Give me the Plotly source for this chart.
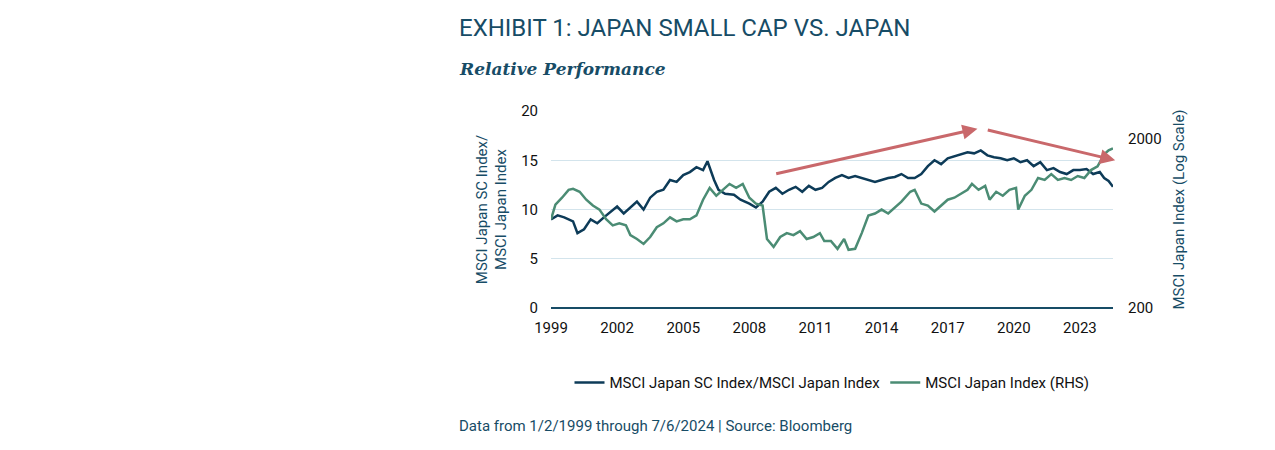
import plotly.graph_objects as go

# relative performance: MSCI Japan SC / MSCI Japan (left axis)
rel_t = [1999.0, 1999.3, 1999.6, 2000.0, 2000.2, 2000.5, 2000.8, 2001.1, 2001.4, 2001.7, 2002.0, 2002.3, 2002.6,
         2002.9, 2003.2, 2003.5, 2003.8, 2004.1, 2004.4, 2004.7, 2005.0, 2005.3, 2005.6, 2005.9, 2006.1, 2006.4,
         2006.6, 2006.9, 2007.3, 2007.6, 2008.0, 2008.3, 2008.6, 2008.9, 2009.2, 2009.5, 2009.8, 2010.1, 2010.4,
         2010.7, 2011.0, 2011.3, 2011.6, 2011.9, 2012.2, 2012.5, 2012.8, 2013.1, 2013.4, 2013.7, 2014.0, 2014.3,
         2014.6, 2014.9, 2015.2, 2015.5, 2015.8, 2016.1, 2016.4, 2016.7, 2017.0, 2017.3, 2017.6, 2017.9, 2018.2,
         2018.5, 2018.8, 2019.1, 2019.4, 2019.7, 2020.0, 2020.3, 2020.6, 2020.9, 2021.2, 2021.5, 2021.8, 2022.1,
         2022.4, 2022.7, 2023.0, 2023.3, 2023.6, 2023.9, 2024.1, 2024.3, 2024.5]
rel_v = [9.0, 9.4, 9.2, 8.8, 7.6, 8.0, 9.0, 8.6, 9.2, 9.8, 10.3, 9.6, 10.2,
         10.8, 10.0, 11.2, 11.8, 12.0, 13.0, 12.8, 13.5, 13.8, 14.3, 14.0, 14.9, 13.0,
         12.0, 11.6, 11.5, 11.0, 10.6, 10.2, 10.8, 11.8, 12.2, 11.6, 12.0, 12.3, 11.8,
         12.4, 12.0, 12.2, 12.8, 13.2, 13.5, 13.2, 13.4, 13.2, 13.0, 12.8, 13.0, 13.2,
         13.3, 13.6, 13.2, 13.2, 13.6, 14.4, 15.0, 14.6, 15.2, 15.4, 15.6, 15.8, 15.7,
         16.0, 15.5, 15.3, 15.2, 15.0, 15.2, 14.8, 15.0, 14.4, 14.8, 14.0, 14.2, 13.8,
         13.6, 14.0, 14.0, 14.1, 13.6, 13.8, 13.2, 12.9, 12.3]

# MSCI Japan Index level (right axis, log)
jp_t = [1999.0, 1999.2, 1999.5, 1999.8, 2000.0, 2000.3, 2000.6, 2000.9, 2001.2, 2001.5, 2001.8, 2002.1, 2002.4,
        2002.6, 2002.9, 2003.2, 2003.5, 2003.8, 2004.1, 2004.4, 2004.7, 2005.0, 2005.3, 2005.6, 2005.9, 2006.2,
        2006.5, 2006.8, 2007.1, 2007.4, 2007.7, 2008.0, 2008.3, 2008.6, 2008.8, 2009.1, 2009.4, 2009.7, 2010.0,
        2010.3, 2010.6, 2010.9, 2011.2, 2011.4, 2011.7, 2012.0, 2012.3, 2012.5, 2012.8, 2013.1, 2013.4, 2013.7,
        2014.0, 2014.3, 2014.6, 2014.9, 2015.3, 2015.5, 2015.8, 2016.1, 2016.4, 2016.7, 2017.0, 2017.3, 2017.6,
        2017.9, 2018.1, 2018.4, 2018.7, 2018.9, 2019.2, 2019.5, 2019.8, 2020.1, 2020.2, 2020.5, 2020.8, 2021.1,
        2021.4, 2021.7, 2022.0, 2022.3, 2022.6, 2022.9, 2023.2, 2023.5, 2023.8, 2024.1, 2024.3, 2024.5]
jp_v = [670, 819, 899, 1001, 1015, 975, 875, 808, 765, 670, 617, 634, 617,
        540, 512, 479, 526, 601, 634, 688, 651, 670, 670, 706, 875, 1028,
        924, 1001, 1085, 1028, 1085, 899, 830, 808, 512, 460, 526, 555, 540,
        570, 512, 526, 555, 498, 498, 448, 512, 442, 448, 555, 706, 725,
        765, 725, 786, 852, 975, 1001, 830, 808, 745, 808, 875, 899, 949,
        1001, 1085, 1001, 1056, 875, 975, 924, 1001, 1028, 765, 924, 1001, 1176,
        1145, 1241, 1145, 1176, 1145, 1208, 1176, 1310, 1380, 1623, 1714, 1759]

navy = "#0d3b58"
green = "#4b8c74"
teal = "#174c66"
font = "Roboto"

fig = go.Figure()
fig.add_trace(go.Scatter(x=rel_t, y=rel_v, name="MSCI Japan SC Index/MSCI Japan Index",
                         line=dict(color=navy, width=2.5)))
fig.add_trace(go.Scatter(x=jp_t, y=jp_v, name="MSCI Japan Index (RHS)", yaxis="y2",
                         line=dict(color=green, width=2.5)))

for x0, y0, x1, y1 in [(2009.15, 13.6, 2018.35, 18.2), (2018.75, 18.1, 2024.6, 15.0)]:
    fig.add_annotation(x=x1, y=y1, ax=x0, ay=y0, xref="x", yref="y", axref="x", ayref="y",
                       showarrow=True, arrowhead=2, arrowsize=1, arrowwidth=3,
                       arrowcolor="#c9686b", text="")

fig.update_layout(
    width=1275, height=450, plot_bgcolor="white", paper_bgcolor="white",
    margin=dict(l=543, r=170, t=103, b=150),
    font=dict(family=font, color="#111", size=15),
    showlegend=True,
    legend=dict(orientation="h", x=0.5, xanchor="center", y=-0.38, yanchor="middle",
                font=dict(size=15, color="#111")),
    xaxis=dict(range=[1999, 2024.5], tickvals=list(range(1999, 2024, 3)), showgrid=False,
               ticks="outside", ticklen=6, tickcolor="white", zeroline=False, showline=False),
    yaxis=dict(range=[0, 20], dtick=5, gridcolor="#d3e4ec", zeroline=True, zerolinecolor=teal,
               zerolinewidth=1.5, ticklabelstandoff=12,
               title=dict(text="MSCI Japan SC Index/<br>MSCI Japan Index",
                          font=dict(color=teal, size=15), standoff=10)),
    yaxis2=dict(type="log", range=[2.30103, 3.467], overlaying="y", side="right",
                tickvals=[200, 2000], ticktext=["200", "2000"], showgrid=False, zeroline=False,
                ticklabelstandoff=14,
                title=dict(text="MSCI Japan Index (Log Scale)", font=dict(color=teal, size=15),
                           standoff=12)),
)

fig.add_annotation(text="EXHIBIT 1: JAPAN SMALL CAP VS. JAPAN", xref="paper", yref="paper",
                   x=-0.168, y=1.42, xanchor="left", yanchor="middle", showarrow=False,
                   font=dict(family=font, size=24, color=teal))
fig.add_annotation(text="<b><i>Relative Performance</i></b>", xref="paper", yref="paper",
                   x=-0.168, y=1.215, xanchor="left", yanchor="middle", showarrow=False,
                   font=dict(family="DejaVu Serif", size=17, color=teal))
fig.add_annotation(text="Data from 1/2/1999 through 7/6/2024 | Source: Bloomberg", xref="paper",
                   yref="paper", x=-0.168, y=-0.6, xanchor="left", yanchor="middle", showarrow=False,
                   font=dict(family=font, size=15, color=teal))

fig.write_html("out.html")
